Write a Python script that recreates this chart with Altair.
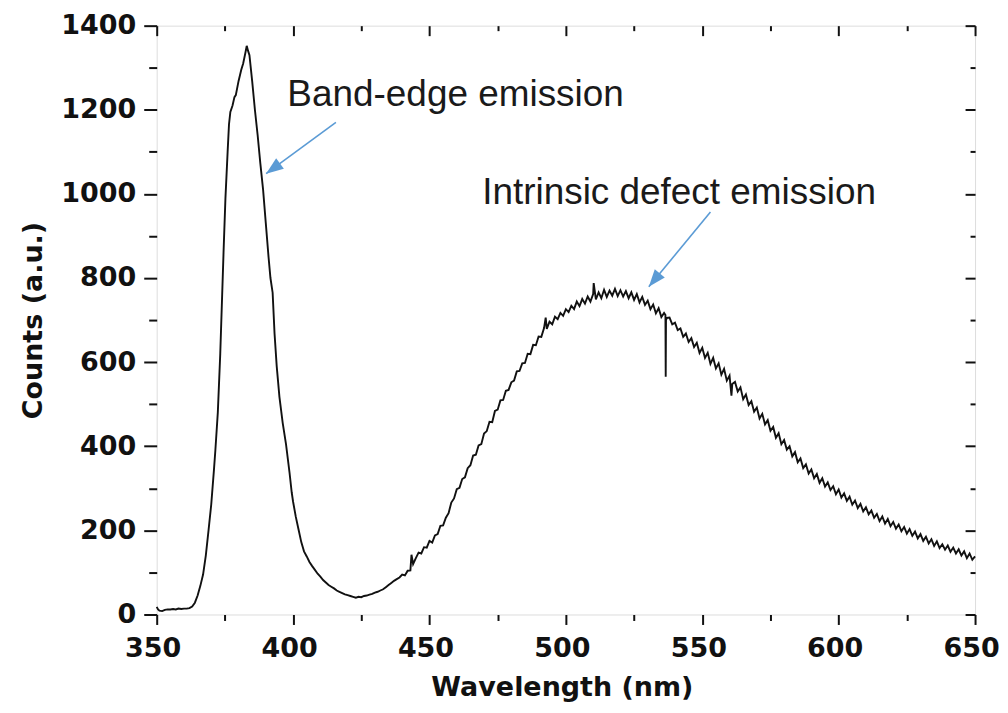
import altair as alt
import pandas as pd

# ---------------- data ----------------
WL = [350, 350.5, 351, 352, 353, 354, 355, 356, 357, 358, 359, 360, 361, 362, 363, 364, 365, 366, 367, 368,
      369, 370, 371, 371.5, 372.4, 373.3, 374, 374.5, 375.2, 376, 376.5, 377, 377.8, 378.5, 379, 380, 381,
      381.7, 382.5, 383, 383.5, 384, 385, 386, 387, 388, 389, 390, 391, 391.7, 392.5, 393.2, 394, 395, 396.2,
      397.4, 398.7, 399.5, 400, 401, 402, 403, 404, 405, 406, 407, 408, 409, 410, 411, 412, 413, 414, 415,
      416, 417, 418, 419, 420, 421, 422, 423, 424, 425, 426, 427, 428, 429, 430, 431, 432, 433, 434, 435,
      436, 437, 438, 439,
      440, 441, 442, 443, 443.4, 444, 445, 446, 447, 448, 449, 450, 451, 452, 453, 454, 455, 456, 457, 458,
      459, 460, 461, 462, 463, 464, 465, 466, 467, 468, 469, 470, 471, 472, 473, 474, 475, 476, 477, 478,
      479, 480, 481, 482, 483, 484, 485, 486, 487, 488, 489, 490, 491, 492, 492.6, 493, 494, 495, 496, 497,
      498, 499, 500, 501, 502, 503, 504, 505, 506, 507, 508, 509, 510, 510.2, 511, 512, 513, 514, 515, 516,
      517, 518, 519, 520, 521, 522, 523, 524, 525, 526, 527, 528, 529, 530, 531, 532, 533, 534, 535, 536,
      536.5, 536.6, 536.7, 537, 538, 539, 540, 541, 542, 543, 544, 545, 546, 547, 548, 549, 550, 551, 552,
      553, 554, 555, 556, 557, 558, 559, 560, 560.7, 561, 562, 563, 564, 565, 566, 567, 568, 569, 570, 571,
      572, 573, 574, 575, 576, 577, 578, 579, 580, 581, 582, 583, 584, 585, 586, 587, 588, 589, 590, 591,
      592, 593, 594, 595, 596, 597, 598, 599, 600, 601, 602, 603, 604, 605, 606, 607, 608, 609, 610, 611,
      612, 613, 614, 615, 616, 617, 618, 619, 620, 621, 622, 623, 624, 625, 626, 627, 628, 629, 630, 631,
      632, 633, 634, 635, 636, 637, 638, 639, 640, 641, 642, 643, 644, 645, 646, 647, 648, 649, 650]

COUNTS = [18, 12, 9, 8, 11, 12, 12, 13, 12, 14, 13, 14, 14, 15, 19, 28, 45, 68, 95, 140,
          200, 262, 345, 390, 480, 620, 760, 860, 990, 1100, 1165, 1195, 1210, 1230, 1235, 1268, 1295,
          1310, 1335, 1352, 1340, 1330, 1268, 1200, 1140, 1072, 1010, 930, 850, 800, 765, 668, 590, 517, 455,
          405, 337, 290, 268, 232, 202, 172, 150, 138, 125, 115, 106, 97, 90, 82, 76, 70, 66, 62,
          57, 54, 51, 48, 46, 44, 42, 40, 42, 41, 44, 45, 47, 49, 52, 54, 57, 60, 65, 70,
          75, 80, 84, 88,
          95, 93, 104, 105, 142, 120, 134, 147, 145, 160, 159, 175, 171, 188, 191, 211, 212, 230, 241, 266,
          276, 298, 301, 322, 326, 348, 355, 378, 380, 402, 405, 430, 436, 458, 457, 484, 487, 509, 510, 532,
          534, 552, 556, 578, 579, 597, 598, 620, 619, 641, 640, 661, 660, 681, 706, 679, 696, 690, 708, 702,
          717, 710, 726, 719, 734, 726, 744, 733, 750, 739, 756, 744, 762, 788, 749, 766, 752, 772, 755, 770,
          758, 774, 757, 771, 756, 769, 752, 766, 748, 762, 742, 755, 736, 746, 726, 737, 716, 728, 707, 717,
          712, 565, 700, 705, 706, 690, 694, 676, 680, 660, 668, 648, 657, 636, 646, 622, 634, 610, 622,
          596, 610, 585, 597, 570, 584, 556, 568, 520, 548, 553, 530, 540, 512, 523, 498, 507, 482, 492, 466,
          477, 452, 462, 437, 446, 420, 431, 405, 415, 392, 400, 376, 386, 362, 371, 348, 357, 335, 345, 324,
          334, 313, 324, 304, 314, 296, 305, 286, 297, 278, 288, 270, 280, 261, 271, 253, 263, 245, 255, 238,
          247, 230, 239, 222, 233, 216, 227, 210, 220, 204, 214, 198, 208, 192, 203, 187, 197, 181, 191, 175,
          185, 169, 179, 163, 174, 158, 167, 154, 164, 149, 159, 145, 155, 140, 150, 134, 145, 130, 138]

X_MAJOR = [350, 400, 450, 500, 550, 600, 650]
X_MINOR = [375, 425, 475, 525, 575, 625]
Y_MAJOR = [0, 200, 400, 600, 800, 1000, 1200, 1400]
Y_MINOR = [100, 300, 500, 700, 900, 1100, 1300]

ANN_TEXT = ["Band-edge emission", "Intrinsic defect emission"]
ANN_X = [397.9, 469.3]
ANN_Y = [1210, 977]

ARROW_X0 = [415.7, 553.0]
ARROW_Y0 = [1170, 957]
ARROW_X1 = [390.1, 530.4]
ARROW_Y1 = [1048, 779]
ARROW_ANGLE = [233.6, 219.4]

# ---------------- chart ----------------
df = pd.DataFrame({"wl": WL, "counts": COUNTS})
ann = pd.DataFrame({"x": ANN_X, "y": ANN_Y, "t": ANN_TEXT})
arr = pd.DataFrame({"x0": ARROW_X0, "y0": ARROW_Y0, "x1": ARROW_X1, "y1": ARROW_Y1, "a": ARROW_ANGLE})

FONT = "DejaVu Sans"
INK = "#111111"
ARROW = "#5b9bd5"

xs = alt.Scale(domain=[350, 650], nice=False, zero=False)
ys = alt.Scale(domain=[0, 1400], nice=False, zero=False)

main = alt.Chart(df).mark_line(color=INK, strokeWidth=1.9).encode(
    x=alt.X("wl:Q", scale=xs, axis=alt.Axis(
        orient="bottom", values=X_MAJOR, format="d", tickSize=10, tickWidth=2, tickColor=INK,
        domain=False, grid=False, labelFont=FONT, labelFontWeight="bold", labelFontSize=27,
        labelColor=INK, labelPadding=11, labelFlush=False, labelOffset=-4,
        title="Wavelength (nm)", titleFont=FONT, titleFontWeight="bold", titleFontSize=27,
        titleColor=INK, titleX=406, titleY=73, titleAlign="center", titleBaseline="middle")),
    y=alt.Y("counts:Q", scale=ys, axis=alt.Axis(
        orient="left", values=Y_MAJOR, format="d", tickSize=13, tickWidth=2, tickColor=INK,
        domain=False, grid=False, labelFont=FONT, labelFontWeight="bold", labelFontSize=27,
        labelColor=INK, labelPadding=8, labelFlush=False,
        title="Counts (a.u.)", titleFont=FONT, titleFontWeight="bold", titleFontSize=27,
        titleColor=INK, titleX=-123, titleY=295, titleAngle=270, titleAlign="center",
        titleBaseline="middle")),
)

minor = alt.Chart(df).mark_line(opacity=0).encode(
    x=alt.X("wl:Q", scale=xs, axis=alt.Axis(
        orient="bottom", values=X_MINOR, tickSize=6, tickWidth=2, tickColor=INK,
        domain=False, grid=False, labels=False, title="")),
    y=alt.Y("counts:Q", scale=ys, axis=alt.Axis(
        orient="left", values=Y_MINOR, tickSize=8, tickWidth=2, tickColor=INK,
        domain=False, grid=False, labels=False, title="")),
)

top_major = alt.Chart(df).mark_line(opacity=0).encode(
    x=alt.X("wl:Q", scale=xs, axis=alt.Axis(
        orient="top", offset=-10, values=X_MAJOR, tickSize=10, tickWidth=2, tickColor=INK,
        domain=False, grid=False, labels=False, title="")),
    y=alt.Y("counts:Q", scale=ys, axis=alt.Axis(
        orient="right", offset=-10, values=Y_MAJOR, tickSize=10, tickWidth=2, tickColor=INK,
        domain=False, grid=False, labels=False, title="")),
)

top_minor = alt.Chart(df).mark_line(opacity=0).encode(
    x=alt.X("wl:Q", scale=xs, axis=alt.Axis(
        orient="top", offset=-5, values=X_MINOR, tickSize=5, tickWidth=2, tickColor=INK,
        domain=False, grid=False, labels=False, title="")),
    y=alt.Y("counts:Q", scale=ys, axis=alt.Axis(
        orient="right", offset=-5, values=Y_MINOR, tickSize=5, tickWidth=2, tickColor=INK,
        domain=False, grid=False, labels=False, title="")),
)

texts = alt.Chart(ann).mark_text(
    align="left", baseline="alphabetic", font="Liberation Sans", fontSize=37, color="#1a1a1a"
).encode(
    x=alt.X("x:Q", scale=xs, axis=None),
    y=alt.Y("y:Q", scale=ys, axis=None),
    text="t:N",
)

shafts = alt.Chart(arr).mark_rule(color=ARROW, strokeWidth=1.6).encode(
    x=alt.X("x0:Q", scale=xs, axis=None),
    y=alt.Y("y0:Q", scale=ys, axis=None),
    x2="x1:Q",
    y2="y1:Q",
)

heads = alt.Chart(arr).mark_point(
    shape="M0,0L-0.75,2L0.75,2Z", filled=True, color=ARROW, opacity=1, size=300
).encode(
    x=alt.X("x1:Q", scale=xs, axis=None),
    y=alt.Y("y1:Q", scale=ys, axis=None),
    angle=alt.Angle("a:Q", scale=None),
)

chart = alt.layer(main, minor, top_major, top_minor, shafts, heads, texts).resolve_axis(
    x="independent", y="independent"
).properties(
    width=820,
    height=590,
    autosize=alt.AutoSizeParams(type="none"),
    padding={"left": 149, "top": 17, "right": 25, "bottom": 88},
).configure_view(stroke=INK, strokeWidth=2).configure(background="white")

chart.save("out.html", embed_options={"renderer": "svg", "actions": False})
